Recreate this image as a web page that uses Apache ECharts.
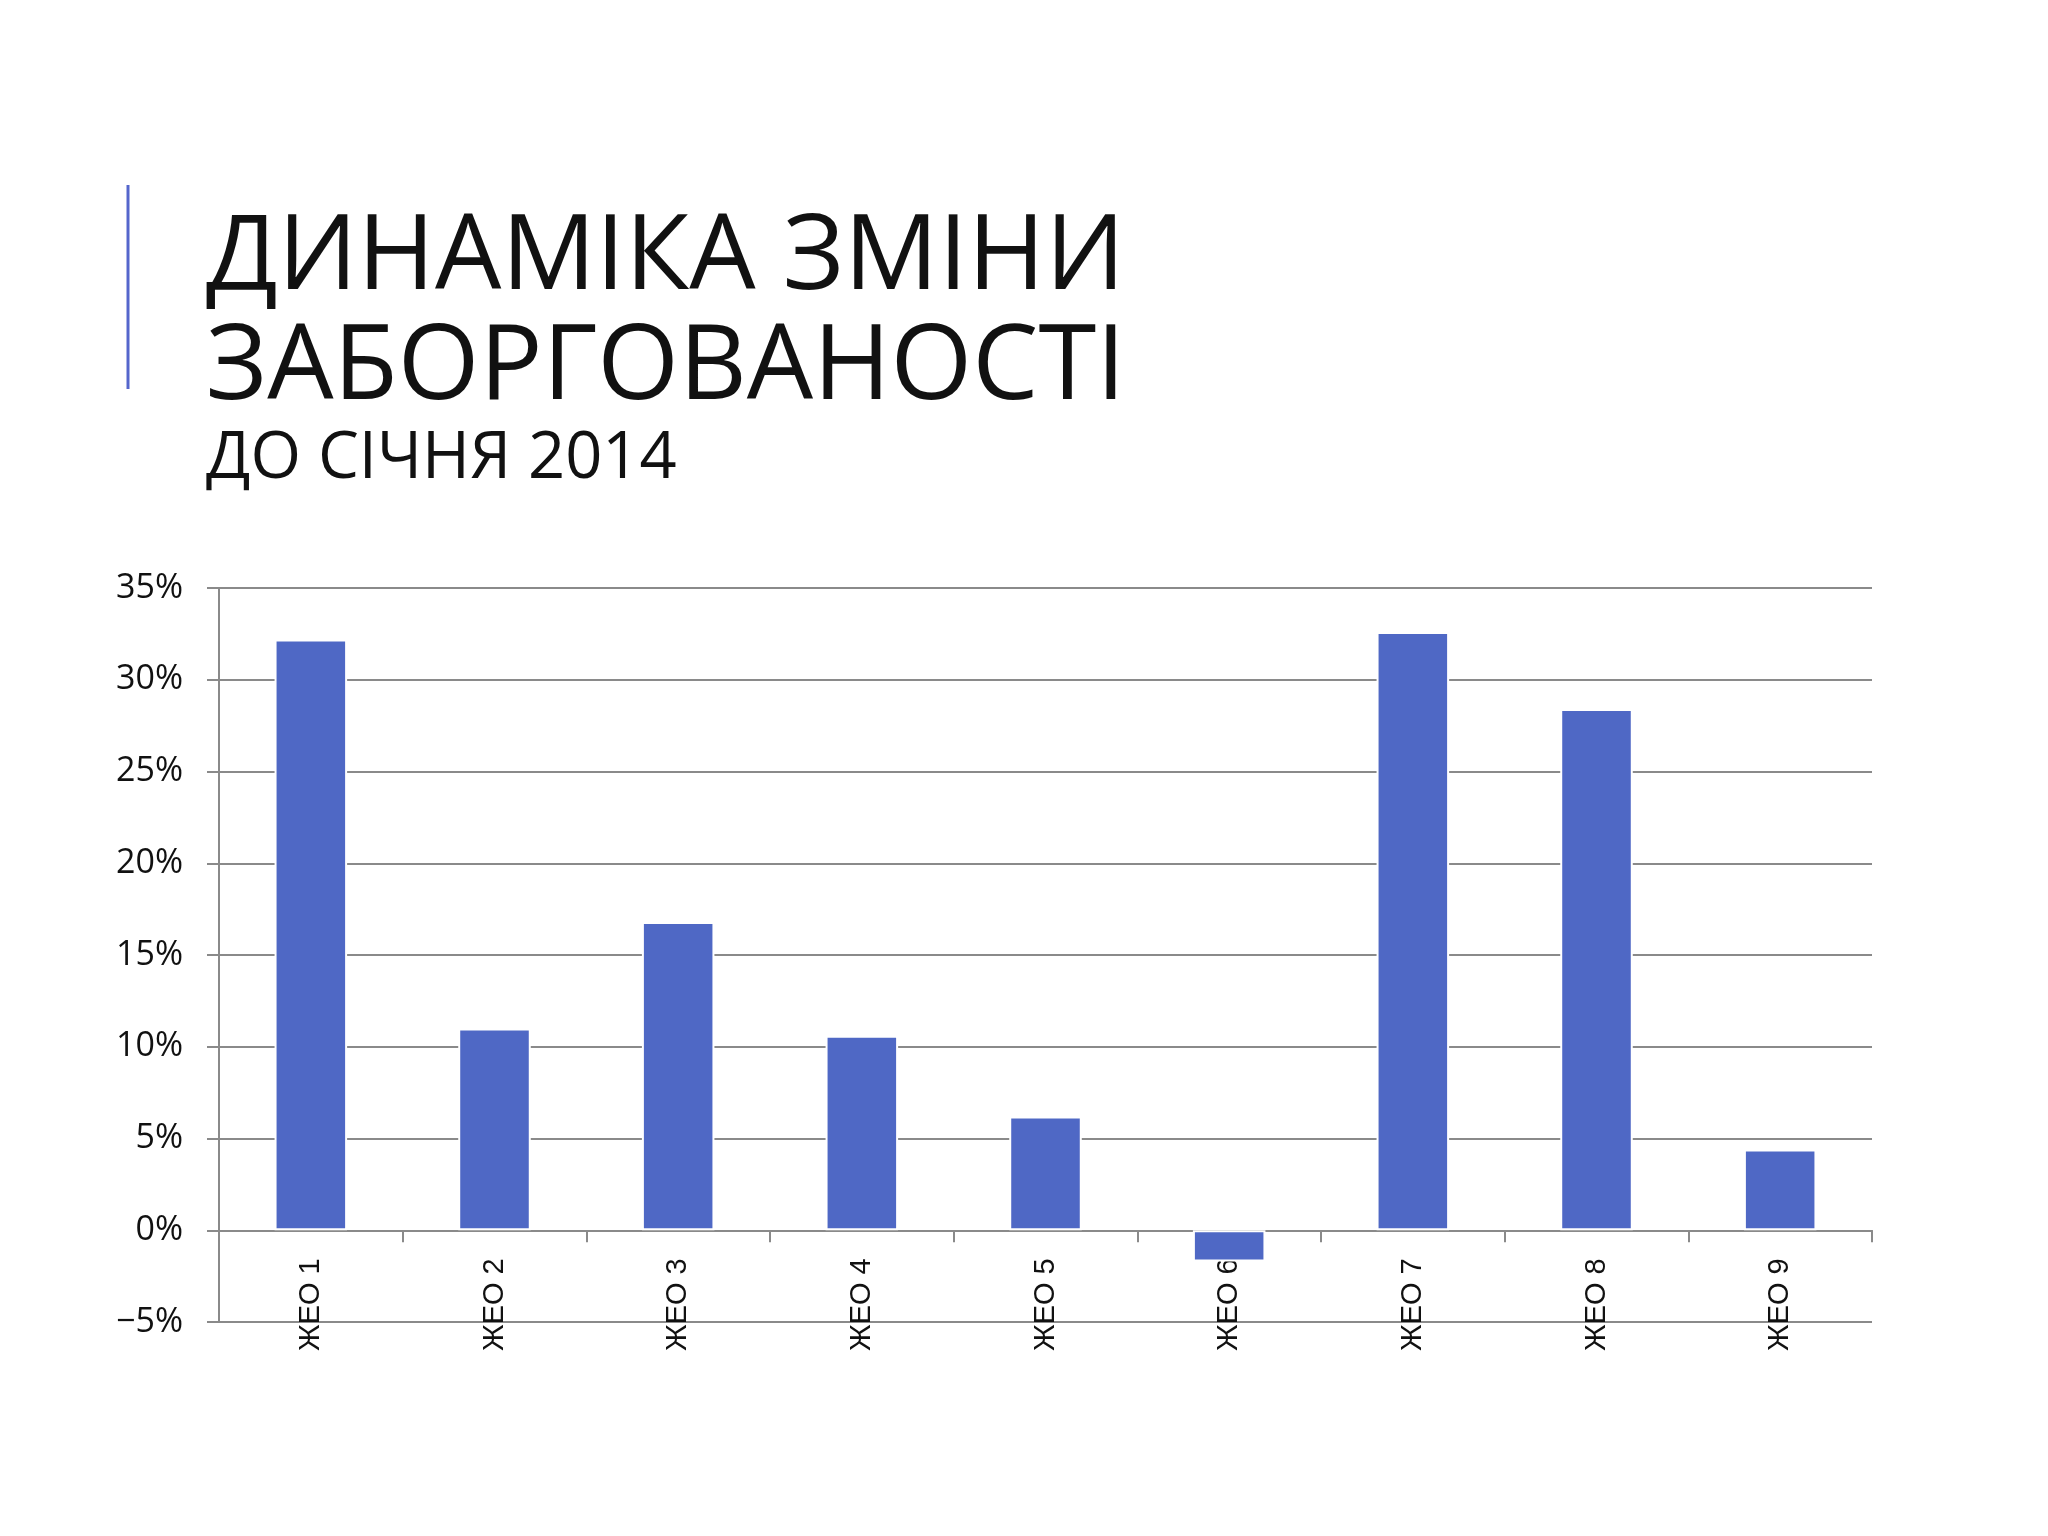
<!DOCTYPE html>
<html><head><meta charset="utf-8">
<script src="https://cdn.jsdelivr.net/npm/echarts@6/dist/echarts.min.js"></script>
<style>html,body{margin:0;padding:0;background:#fff}#c{width:2048px;height:1536px}</style>
</head><body><div id="c"></div>
<script>
const categories = ['ЖЕО 1', 'ЖЕО 2', 'ЖЕО 3', 'ЖЕО 4', 'ЖЕО 5', 'ЖЕО 6', 'ЖЕО 7', 'ЖЕО 8', 'ЖЕО 9'];
const values = [32.2, 11.0, 16.8, 10.6, 6.2, -1.7, 32.6, 28.4, 4.4];
const yMin = -5, yMax = 35, yStep = 5;
const titleLines = ['ДИНАМІКА ЗМІНИ', 'ЗАБОРГОВАНОСТІ'];
const subtitle = 'ДО СІЧНЯ 2014';

const gridTop = 588, gridBottom = 214, H = 1536;
const plotH = H - gridTop - gridBottom;
// place the category axis on the zero line (derived from the value range)
const zeroOffset = -plotH * (0 - yMin) / (yMax - yMin);

const chart = echarts.init(document.getElementById('c'), null, {renderer: 'canvas'});
const gray = '#8a8a8a';
chart.setOption({
  backgroundColor: '#ffffff',
  animation: false,
  graphic: [
    {type: 'line', shape: {x1: 128, y1: 185, x2: 128, y2: 389}, style: {stroke: '#5566CC', lineWidth: 3}},
    {type: 'text', x: 206, y: 259, style: {text: titleLines[0], font: '400 105px "Open Sans"', fill: '#111111', verticalAlign: 'middle'}},
    {type: 'text', x: 206, y: 369, style: {text: titleLines[1], font: '400 105px "Open Sans"', fill: '#111111', verticalAlign: 'middle'}},
    {type: 'text', x: 206, y: 459, style: {text: subtitle, font: '400 65px "Open Sans"', fill: '#111111', verticalAlign: 'middle'}}
  ],
  grid: {left: 219, right: 176, top: gridTop, bottom: gridBottom, containLabel: false, outerBoundsMode: 'none'},
  xAxis: {
    type: 'category',
    data: categories,
    offset: zeroOffset,
    axisLine: {onZero: false, lineStyle: {color: gray, width: 2}},
    axisTick: {show: true, length: 12, alignWithLabel: false, interval: 0, lineStyle: {color: gray, width: 2}},
    axisLabel: {rotate: 90, interval: 0, margin: 28, fontSize: 29, fontFamily: '"Liberation Sans", Arial', color: '#111111'},
    splitLine: {show: false}
  },
  yAxis: {
    type: 'value',
    min: yMin, max: yMax, interval: yStep,
    axisLine: {show: true, lineStyle: {color: gray, width: 2}},
    axisTick: {show: true, length: 12, lineStyle: {color: gray, width: 2}},
    axisLabel: {
      margin: 36, fontSize: 34, fontFamily: '"Open Sans"', color: '#111111',
      formatter: v => (v < 0 ? '\u2212' + (-v) : v) + '%'
    },
    splitLine: {show: true, lineStyle: {color: gray, width: 2}}
  },
  series: [{
    type: 'bar',
    data: values,
    barWidth: '39.5%',
    itemStyle: {color: '#4F68C5', borderColor: '#ffffff', borderWidth: 2}
  }]
});
</script>
</body></html>
